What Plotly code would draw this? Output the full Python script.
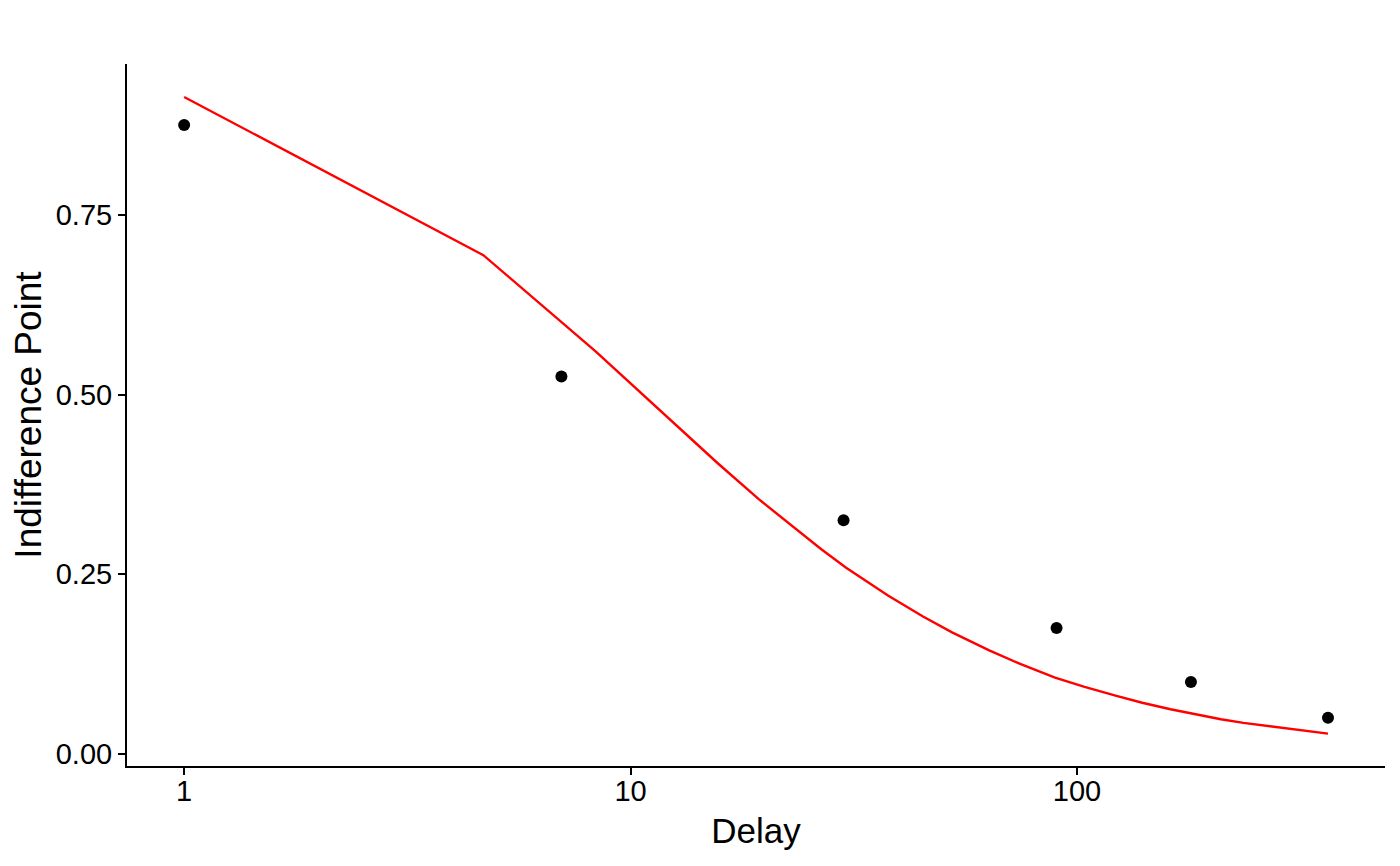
import plotly.graph_objects as go

# observed indifference points
delay = [1, 7, 30, 90, 180, 365]
indiff = [0.875, 0.525, 0.325, 0.175, 0.1, 0.05]

# fitted curve
fit_delay = [1, 4.68, 8.35, 12.0, 15.7, 19.4, 23.1, 26.7, 30.4, 37.8, 45.2, 52.5,
             63.6, 74.6, 89.3, 104, 122, 140, 162, 184, 210, 236, 265, 295, 325, 365]
fit_value = [0.914, 0.694, 0.560, 0.470, 0.404, 0.354, 0.316, 0.285, 0.259, 0.220,
             0.191, 0.169, 0.144, 0.125, 0.106, 0.093, 0.081, 0.071, 0.062, 0.055,
             0.048, 0.043, 0.039, 0.035, 0.032, 0.028]

y_ticks = [0, 0.25, 0.5, 0.75]
y_tick_text = ["0.00", "0.25", "0.50", "0.75"]
x_ticks = [1, 10, 100]
x_tick_text = ["1", "10", "100"]

font = "Liberation Sans, Arial, sans-serif"

fig = go.Figure()
fig.add_trace(go.Scatter(
    x=delay, y=indiff, mode="markers",
    marker=dict(color="black", size=12),
    showlegend=False,
))
fig.add_trace(go.Scatter(
    x=fit_delay, y=fit_value, mode="lines",
    line=dict(color="red", width=2.4),
    showlegend=False,
))

# page body adds 8px, so the figure is a bit smaller than the window
fig.update_layout(
    width=1392, height=858,
    margin=dict(l=119, r=15, t=56, b=100, autoexpand=False),
    paper_bgcolor="white", plot_bgcolor="white",
    font=dict(family=font, color="black"),
)
fig.update_xaxes(
    type="log", range=[-0.128, 2.690],
    tickvals=x_ticks, ticktext=x_tick_text,
    showgrid=False, zeroline=False, automargin=False,
    showline=True, linecolor="black", linewidth=2,
    ticks="outside", ticklen=7, tickwidth=2, tickcolor="black",
    ticklabelstandoff=-9,
    tickfont=dict(size=29, color="black"),
    title=dict(text="Delay", font=dict(size=35, color="black"), standoff=13),
)
fig.update_yaxes(
    range=[-0.017, 0.960],
    tickvals=y_ticks, ticktext=y_tick_text,
    showgrid=False, zeroline=False, automargin=False,
    showline=True, linecolor="black", linewidth=2,
    ticks="outside", ticklen=7, tickwidth=2, tickcolor="black",
    tickfont=dict(size=29, color="black"),
    title=dict(text="Indifference Point", font=dict(size=37, color="black"), standoff=10),
)

fig.write_html("out.html")
